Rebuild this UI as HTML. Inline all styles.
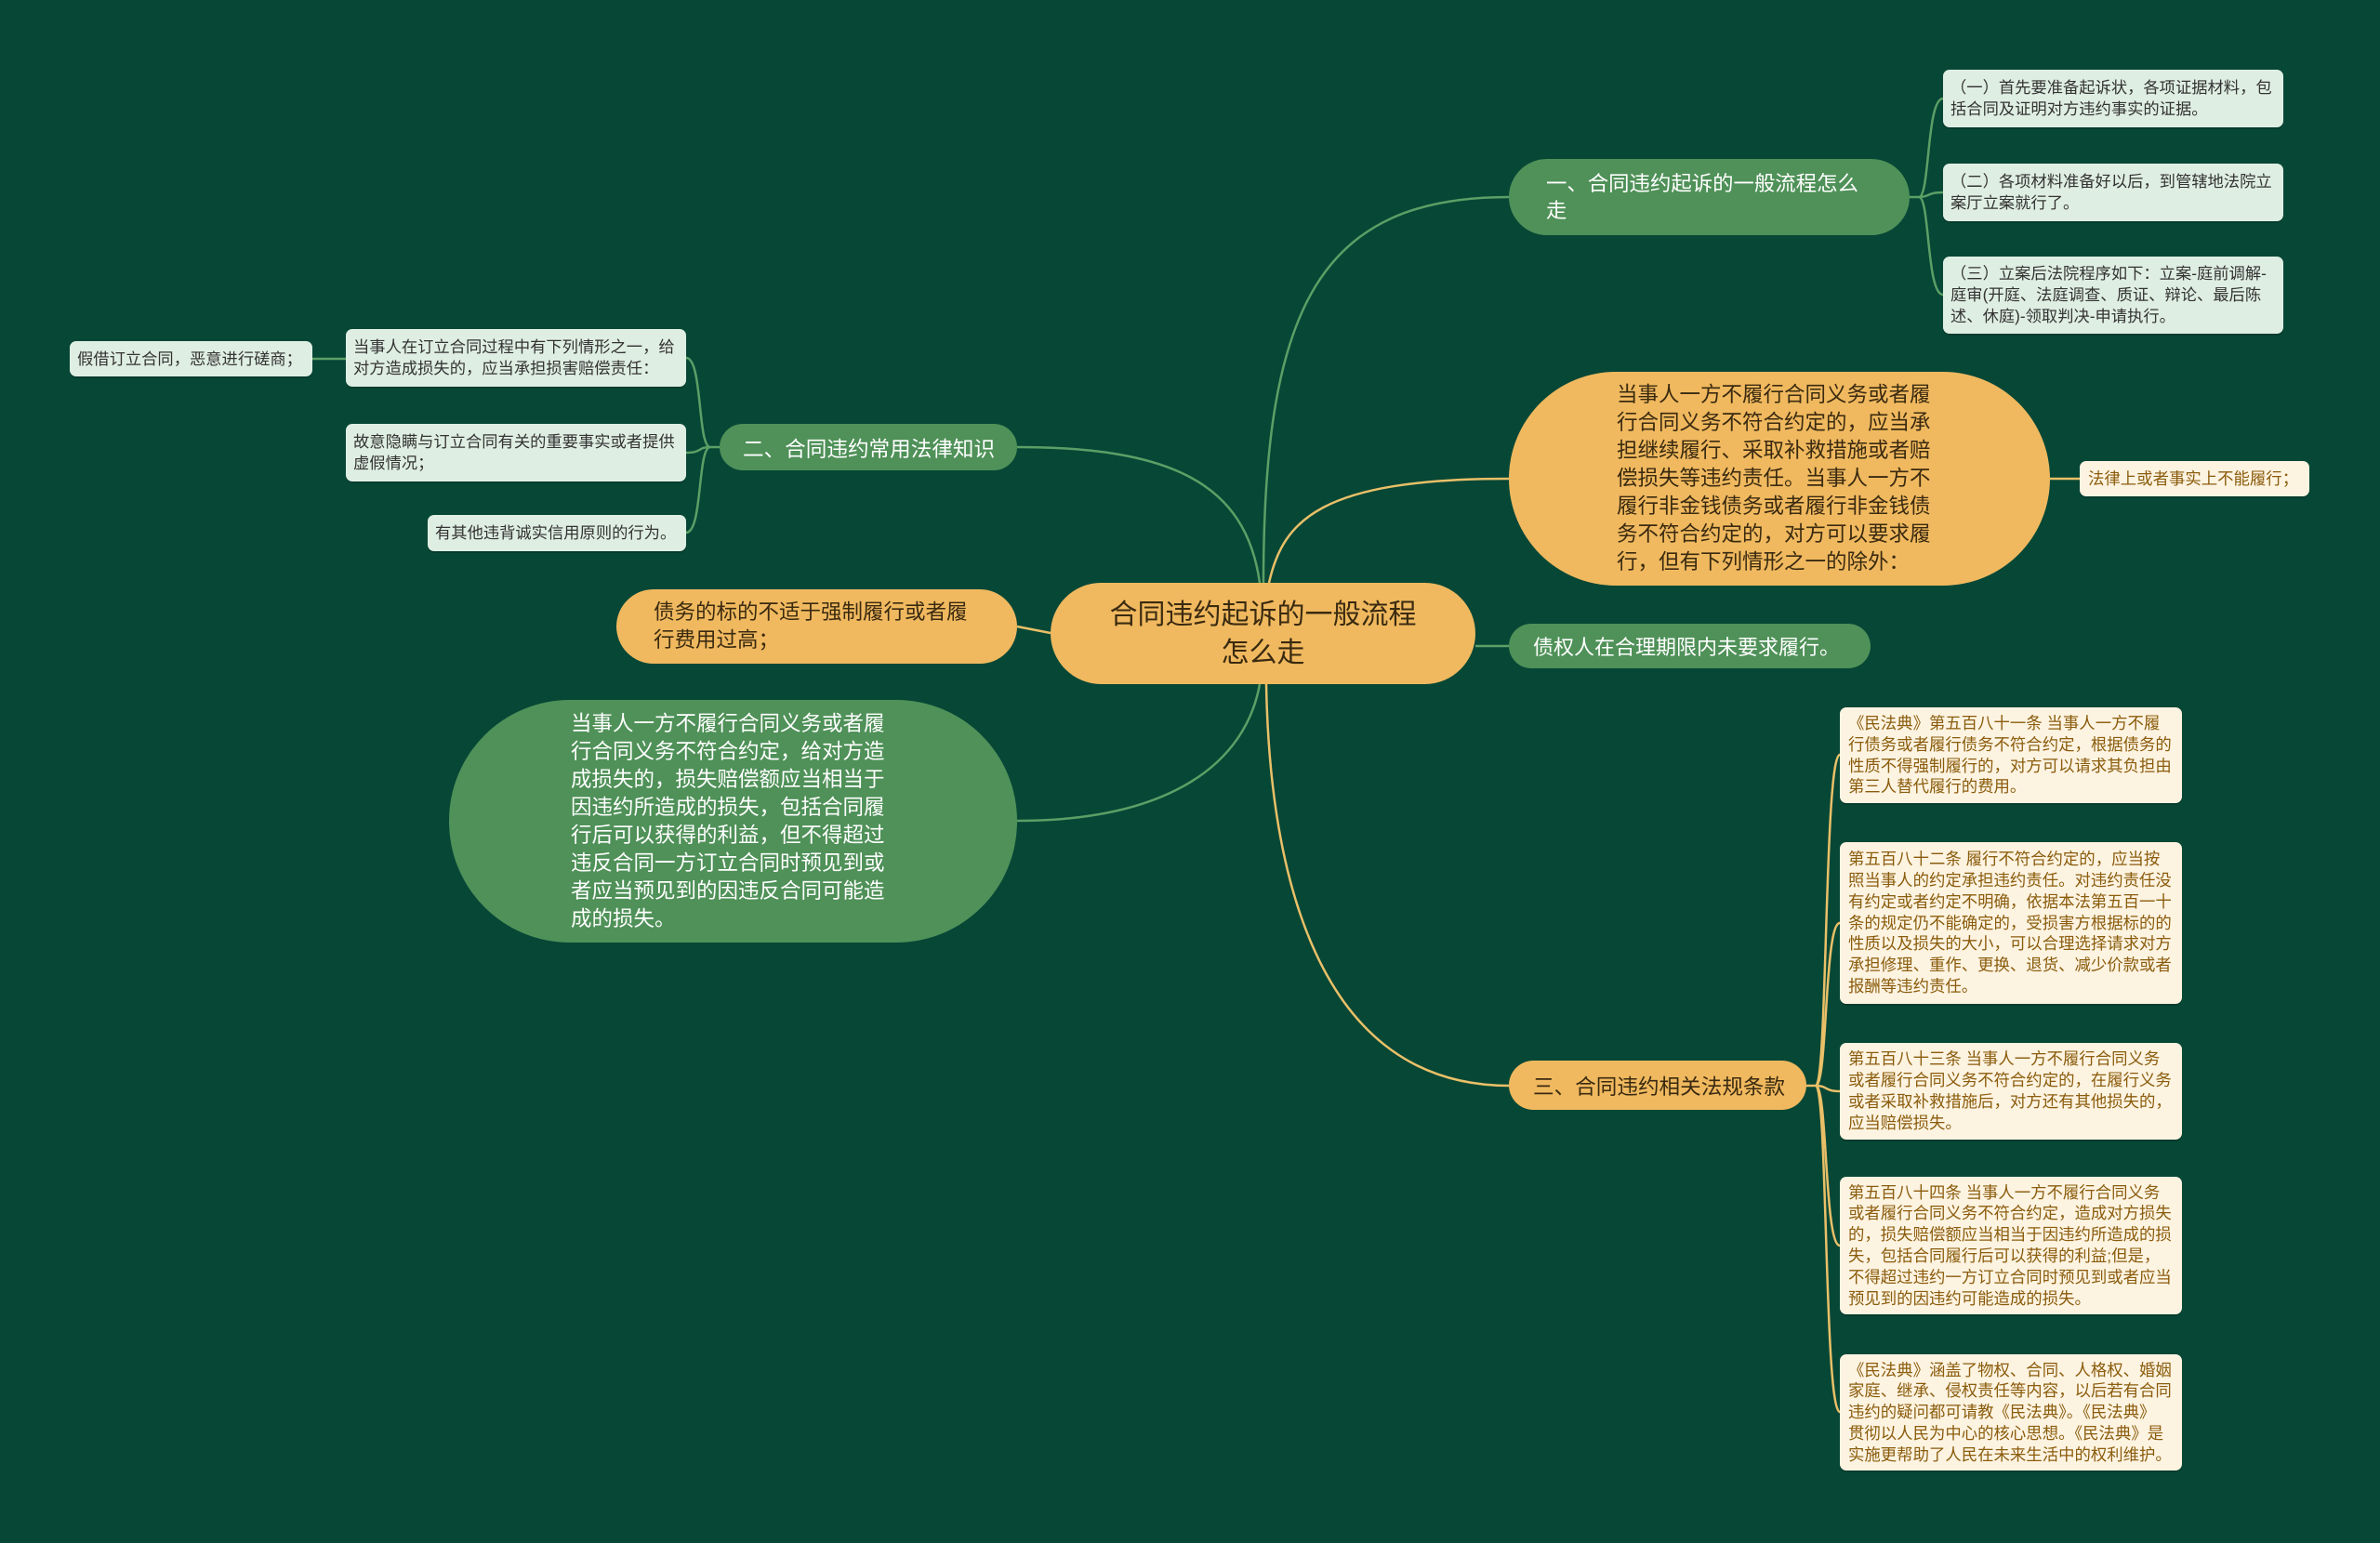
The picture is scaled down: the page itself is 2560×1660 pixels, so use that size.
<!DOCTYPE html>
<html><head><meta charset="utf-8"><style>
body{margin:0;width:2560px;height:1660px;background:#074736;overflow:hidden;position:relative;font-family:"Liberation Sans","Noto Sans CJK SC",sans-serif}
.n{position:absolute;box-sizing:border-box;display:flex;align-items:center;white-space:nowrap}
.g{background:#4f9158;color:#fff;border-radius:60px}
.o{background:#f0b95f;color:#3a2a10;border-radius:60px}
.lg{background:#dfeee3;color:#333;border-radius:7px;font-size:17.3px;line-height:23px;padding:0 8px;box-shadow:0 2px 0 rgba(0,0,0,.15)}
.lc{background:#fdf3e1;color:#8a5c0c;border-radius:7px;font-size:17.4px;line-height:22.8px;padding:0 9px;box-shadow:0 2px 0 rgba(0,0,0,.15)}
svg{position:absolute;left:0;top:0}
</style></head><body>
<svg width="2560" height="1660" fill="none" stroke-width="2.5">
<g stroke="#5c9f66">
<path d="M1359,627 C1359,330 1420,212 1623,212"/>
<path d="M1355,627 C1340,520 1260,481 1094,481"/>
<path d="M1355,736 C1340,820 1260,883 1094,883"/>
<path d="M1587,695 L1623,695"/>
<path d="M2054,212 L2064,212 M2064,212 C2076,212 2072,106 2090,106 M2064,212 C2076,212 2072,207 2090,207 M2064,212 C2076,212 2072,317 2090,317"/>
<path d="M774,481 L764,481 M764,481 C750,481 756,385 738,385 M764,481 C750,481 756,487 738,487 M764,481 C750,481 756,573 738,573"/>
<path d="M336,386 L372,386"/>
</g>
<g stroke="#e9c068">
<path d="M1365,627 C1380,560 1420,515 1623,515"/>
<path d="M1094,674 L1130,681"/>
<path d="M1362,736 C1365,900 1400,1168 1623,1168"/>
<path d="M2205,515 L2237,515"/>
<path d="M1943,1168 L1953,1168 M1953,1168 C1966,1168 1962,812 1979,812 M1953,1168 C1966,1168 1962,993 1979,993 M1953,1168 C1966,1168 1962,1174 1979,1174 M1953,1168 C1966,1168 1962,1340 1979,1340 M1953,1168 C1966,1168 1962,1519 1979,1519"/>
</g>
</svg>

<div class="n o" style="left:1130px;top:627px;width:457px;height:109px;justify-content:center;text-align:center;font-size:30px;line-height:41px">合同违约起诉的一般流程<br>怎么走</div>

<div class="n g" style="left:1623px;top:171px;width:431px;height:82px;padding-left:40px;font-size:22.4px;line-height:29px">一、合同违约起诉的一般流程怎么<br>走</div>
<div class="n lg" style="left:2090px;top:75px;width:366px;height:62px">（一）首先要准备起诉状，各项证据材料，包<br>括合同及证明对方违约事实的证据。</div>
<div class="n lg" style="left:2090px;top:176px;width:366px;height:62px">（二）各项材料准备好以后，到管辖地法院立<br>案厅立案就行了。</div>
<div class="n lg" style="left:2090px;top:276px;width:366px;height:83px">（三）立案后法院程序如下：立案-庭前调解-<br>庭审(开庭、法庭调查、质证、辩论、最后陈<br>述、休庭)-领取判决-申请执行。</div>

<div class="n o" style="left:1623px;top:400px;width:582px;height:230px;border-radius:115px;padding-left:116px;font-size:22.5px;line-height:30px">当事人一方不履行合同义务或者履<br>行合同义务不符合约定的，应当承<br>担继续履行、采取补救措施或者赔<br>偿损失等违约责任。当事人一方不<br>履行非金钱债务或者履行非金钱债<br>务不符合约定的，对方可以要求履<br>行，但有下列情形之一的除外：</div>
<div class="n lc" style="left:2237px;top:496px;width:247px;height:38px">法律上或者事实上不能履行；</div>

<div class="n g" style="left:1623px;top:671px;width:389px;height:48px;padding-left:26px;font-size:22px">债权人在合理期限内未要求履行。</div>

<div class="n o" style="left:1623px;top:1141px;width:320px;height:53px;padding-left:26px;font-size:22.6px">三、合同违约相关法规条款</div>
<div class="n lc" style="left:1979px;top:761px;width:368px;height:103px">《民法典》第五百八十一条 当事人一方不履<br>行债务或者履行债务不符合约定，根据债务的<br>性质不得强制履行的，对方可以请求其负担由<br>第三人替代履行的费用。</div>
<div class="n lc" style="left:1979px;top:906px;width:368px;height:174px">第五百八十二条 履行不符合约定的，应当按<br>照当事人的约定承担违约责任。对违约责任没<br>有约定或者约定不明确，依据本法第五百一十<br>条的规定仍不能确定的，受损害方根据标的的<br>性质以及损失的大小，可以合理选择请求对方<br>承担修理、重作、更换、退货、减少价款或者<br>报酬等违约责任。</div>
<div class="n lc" style="left:1979px;top:1122px;width:368px;height:104px">第五百八十三条 当事人一方不履行合同义务<br>或者履行合同义务不符合约定的，在履行义务<br>或者采取补救措施后，对方还有其他损失的，<br>应当赔偿损失。</div>
<div class="n lc" style="left:1979px;top:1266px;width:368px;height:148px">第五百八十四条 当事人一方不履行合同义务<br>或者履行合同义务不符合约定，造成对方损失<br>的，损失赔偿额应当相当于因违约所造成的损<br>失，包括合同履行后可以获得的利益;但是，<br>不得超过违约一方订立合同时预见到或者应当<br>预见到的因违约可能造成的损失。</div>
<div class="n lc" style="left:1979px;top:1457px;width:368px;height:125px">《民法典》涵盖了物权、合同、人格权、婚姻<br>家庭、继承、侵权责任等内容，以后若有合同<br>违约的疑问都可请教《民法典》。《民法典》<br>贯彻以人民为中心的核心思想。《民法典》是<br>实施更帮助了人民在未来生活中的权利维护。</div>

<div class="n g" style="left:774px;top:456px;width:320px;height:50px;padding-left:25px;font-size:22.6px">二、合同违约常用法律知识</div>
<div class="n lg" style="left:372px;top:354px;width:366px;height:62px">当事人在订立合同过程中有下列情形之一，给<br>对方造成损失的，应当承担损害赔偿责任：</div>
<div class="n lg" style="left:372px;top:456px;width:366px;height:62px">故意隐瞒与订立合同有关的重要事实或者提供<br>虚假情况；</div>
<div class="n lg" style="left:460px;top:554px;width:278px;height:39px">有其他违背诚实信用原则的行为。</div>
<div class="n lg" style="left:75px;top:367px;width:261px;height:38px">假借订立合同，恶意进行磋商；</div>

<div class="n o" style="left:663px;top:634px;width:431px;height:80px;padding-left:40px;font-size:22.5px;line-height:30px">债务的标的不适于强制履行或者履<br>行费用过高；</div>

<div class="n g" style="left:483px;top:753px;width:611px;height:261px;border-radius:130px;padding-left:131px;font-size:22.5px;line-height:30px">当事人一方不履行合同义务或者履<br>行合同义务不符合约定，给对方造<br>成损失的，损失赔偿额应当相当于<br>因违约所造成的损失，包括合同履<br>行后可以获得的利益，但不得超过<br>违反合同一方订立合同时预见到或<br>者应当预见到的因违反合同可能造<br>成的损失。</div>
</body></html>
